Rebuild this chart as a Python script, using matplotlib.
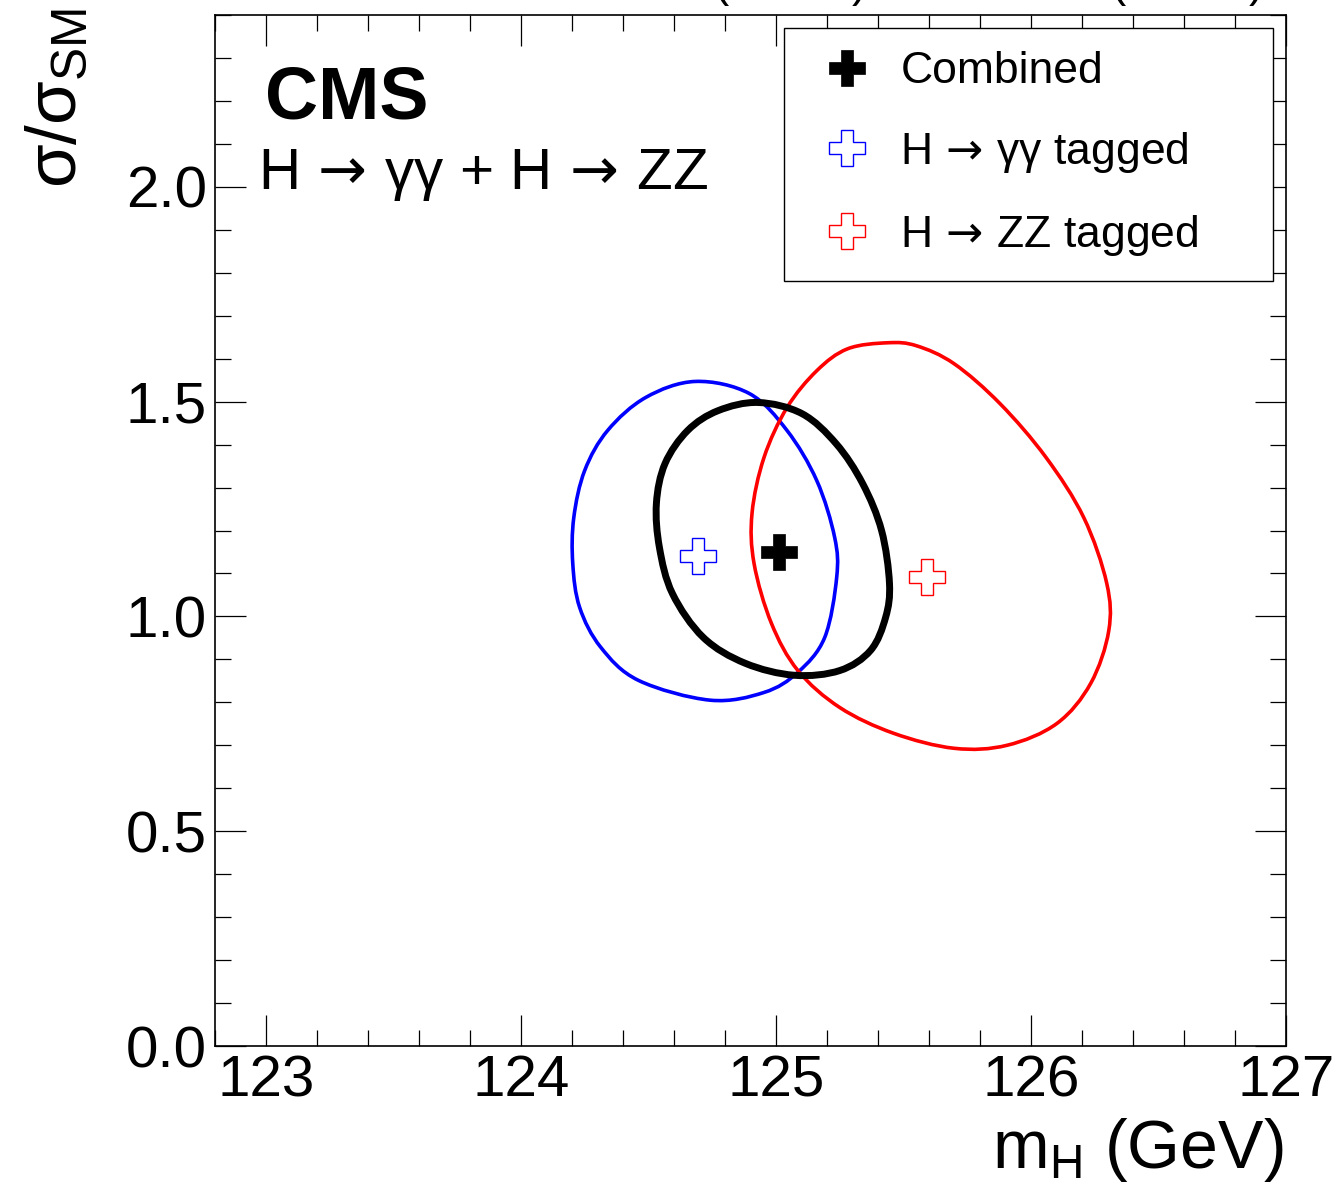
import matplotlib as mpl
mpl.use('Agg')
import matplotlib.pyplot as plt
import numpy as np
from matplotlib.ticker import MultipleLocator
from matplotlib.lines import Line2D
from matplotlib.path import Path
from matplotlib.patches import PathPatch

plt.rcParams['font.family'] = ['Liberation Sans', 'DejaVu Sans']
plt.rcParams['mathtext.fontset'] = 'custom'
plt.rcParams['mathtext.rm'] = 'Liberation Sans'
plt.rcParams['mathtext.it'] = 'Liberation Sans'
plt.rcParams['mathtext.sf'] = 'DejaVu Sans'   # used only for the arrows
plt.rcParams['mathtext.bf'] = 'Liberation Sans:bold'

# 68% CL contours (m_H in GeV, sigma/sigma_SM)
gg_mass = [124.684, 124.490, 124.340, 124.250, 124.207, 124.203, 124.230, 124.313, 124.461,
           124.742, 124.953, 125.086, 125.191, 125.238, 125.230, 125.160, 125.043, 124.895]
gg_mu = [1.547, 1.510, 1.433, 1.340, 1.230, 1.123, 1.021, 0.928, 0.851,
         0.805, 0.823, 0.870, 0.951, 1.091, 1.184, 1.316, 1.433, 1.519]

comb_mass = [124.930, 124.773, 124.654, 124.565, 124.531, 124.543, 124.594, 124.715, 124.879,
             125.072, 125.250, 125.371, 125.430, 125.445, 125.414, 125.340, 125.236, 125.102]
comb_mu = [1.498, 1.479, 1.433, 1.356, 1.263, 1.160, 1.053, 0.951, 0.891,
           0.863, 0.874, 0.921, 0.998, 1.077, 1.200, 1.309, 1.402, 1.472]

zz_mass = [125.438, 125.281, 125.160, 125.043, 124.953, 124.906, 124.914, 124.982, 125.086,
           125.250, 125.461, 125.699, 125.906, 126.102, 126.234, 126.305, 126.297, 126.207,
           126.059, 125.879, 125.699, 125.551]
zz_mu = [1.637, 1.623, 1.572, 1.486, 1.370, 1.240, 1.123, 0.984, 0.874,
         0.788, 0.728, 0.693, 0.700, 0.751, 0.844, 0.967, 1.077, 1.230,
         1.370, 1.495, 1.588, 1.630]

# best-fit points
best_mass = {'comb': 125.012, 'gg': 124.695, 'zz': 125.594}
best_mu = {'comb': 1.151, 'gg': 1.140, 'zz': 1.091}

fig = plt.figure(figsize=(13.41, 11.99), dpi=100)
ax = fig.add_axes([215 / 1341, 1 - 1046 / 1199, 1071 / 1341, 1031 / 1199])


def loop_path(xs, ys):
    # closed bezier path through the traced points (catmull-rom handles)
    p = np.column_stack([xs, ys])
    n = len(p)
    verts = [p[0]]
    codes = [Path.MOVETO]
    for i in range(n):
        p0, p1, p2, p3 = p[i - 1], p[i], p[(i + 1) % n], p[(i + 2) % n]
        verts += [p1 + (p2 - p0) / 6, p2 - (p3 - p1) / 6, p2]
        codes += [Path.CURVE4] * 3
    return Path(verts, codes)


ax.add_patch(PathPatch(loop_path(gg_mass, gg_mu), fill=False, ec='#0000ff', lw=2.6))
ax.add_patch(PathPatch(loop_path(zz_mass, zz_mu), fill=False, ec='#ff0000', lw=2.6))
ax.add_patch(PathPatch(loop_path(comb_mass, comb_mu), fill=False, ec='black', lw=5))

ms = 26.5
ax.plot(best_mass['comb'], best_mu['comb'], 'P', color='black', ms=ms, mec='black', mew=0.5)
ax.plot(best_mass['gg'], best_mu['gg'], 'P', mfc='white', mec='#0000ff', ms=ms, mew=1.0)
ax.plot(best_mass['zz'], best_mu['zz'], 'P', mfc='white', mec='#ff0000', ms=ms, mew=1.0)

ax.set_xlim(122.8, 127.0)
ax.set_ylim(0, 2.4)
ax.xaxis.set_major_locator(MultipleLocator(1))
ax.xaxis.set_minor_locator(MultipleLocator(0.2))
ax.yaxis.set_major_locator(MultipleLocator(0.5))
ax.yaxis.set_minor_locator(MultipleLocator(0.1))
ax.xaxis.set_major_formatter(mpl.ticker.FormatStrFormatter('%d'))
ax.yaxis.set_major_formatter(mpl.ticker.FormatStrFormatter('%.1f'))
ax.tick_params(which='both', direction='in', top=True, right=True, width=0.9, labelsize=42)
ax.tick_params(which='major', length=22.5)
ax.tick_params(which='minor', length=11.5)
ax.tick_params(axis='x', pad=6)
ax.tick_params(axis='y', pad=6)
for s in ax.spines.values():
    s.set_linewidth(1.2)

arrow = r'$\,\mathsf{\rightarrow}\,$'
ax.text(0.0467, 0.900, 'CMS', transform=ax.transAxes, fontsize=53, fontweight='bold',
        ha='left', va='baseline')
ax.text(0.040, 0.831, 'H' + arrow + 'γγ + H' + arrow + 'ZZ', transform=ax.transAxes,
        fontsize=42, ha='left', va='baseline')

fig.text(1283 / 1341, 1 - 1168 / 1199, r'm$_{\mathrm{H}}$ (GeV)', fontsize=49,
         ha='right', va='baseline')
fig.text(58 / 1341, 1 - 8 / 1199, r'$\sigma/\sigma_{\mathrm{SM}}$', fontsize=51,
         rotation=90, ha='center', va='top')
# luminosity label, mostly cut off by the top edge
fig.text(1262 / 1341, 1 + 3 / 1199, r'5.1 fb$^{-1}$ (7 TeV) + 19.7 fb$^{-1}$ (8 TeV)',
         fontsize=33, ha='right', va='baseline')

handles = [
    Line2D([], [], ls='none', marker='P', color='black', ms=ms, mew=0.5),
    Line2D([], [], ls='none', marker='P', mfc='white', mec='#0000ff', ms=ms, mew=1.0),
    Line2D([], [], ls='none', marker='P', mfc='white', mec='#ff0000', ms=ms, mew=1.0),
]
labels = ['Combined', 'H' + arrow + 'γγ tagged', 'H' + arrow + 'ZZ tagged']
leg_top = 1 - 28 / 1199
leg = ax.legend(handles, labels, loc='upper left', mode='expand',
                bbox_to_anchor=(784 / 1341, leg_top - 0.2, 489 / 1341, 0.2),
                bbox_transform=fig.transFigure, fontsize=32, frameon=True,
                fancybox=False, framealpha=1, edgecolor='black', borderpad=0.52,
                handlelength=1.8, handletextpad=0.3, labelspacing=0.85, borderaxespad=0)
leg.get_frame().set_linewidth(1.0)

fig.savefig('out.png', dpi=100)
